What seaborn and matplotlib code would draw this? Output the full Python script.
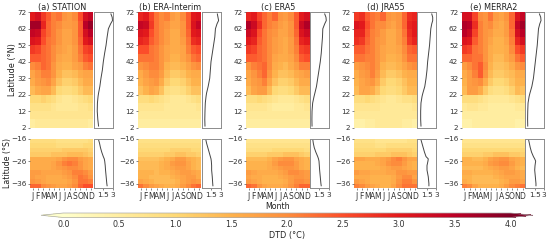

# Monthly DTD by latitude for one station set and four reanalyses
import numpy as np
import matplotlib
matplotlib.use('Agg')
import matplotlib.pyplot as plt
import seaborn as sns

months = ['J', 'F', 'M', 'A', 'M', 'J', 'J', 'A', 'S', 'O', 'N', 'D']
titles = ['(a) STATION', '(b) ERA-Interim', '(c) ERA5', '(d) JRA55', '(e) MERRA2']

# north block, rows go from 72N down to 2N in 5 degree steps
north_a = [[3.0,3.2,2.7,2.4,2.1,2.2,1.9,1.8,2.0,2.5,3.2,3.4],
           [3.7,3.7,2.9,2.3,2.1,2.0,1.8,1.8,1.9,2.4,3.5,3.8],
           [3.4,3.3,2.6,2.3,2.1,1.9,1.7,1.7,1.9,2.4,3.2,3.5],
           [3.1,3.0,2.5,2.2,2.1,1.9,1.7,1.7,1.9,2.3,3.0,3.2],
           [2.7,2.6,2.3,2.2,2.0,1.8,1.7,1.6,1.8,2.2,2.6,2.7],
           [2.4,2.4,2.3,2.2,2.0,1.7,1.6,1.6,1.8,2.1,2.4,2.5],
           [2.0,2.1,2.3,2.2,1.9,1.6,1.5,1.5,1.7,1.8,2.1,2.2],
           [1.7,1.9,2.1,2.1,1.9,1.5,1.3,1.3,1.4,1.6,1.7,1.7],
           [1.6,1.8,1.9,2.0,1.7,1.3,1.1,1.1,1.2,1.4,1.6,1.6],
           [1.4,1.6,1.7,1.7,1.4,1.0,0.9,0.9,1.0,1.2,1.4,1.4],
           [1.0,1.0,1.1,1.0,0.9,0.7,0.6,0.6,0.7,0.8,0.9,1.0],
           [0.8,0.8,0.8,0.8,0.7,0.6,0.6,0.6,0.6,0.7,0.7,0.8],
           [0.7,0.7,0.7,0.7,0.7,0.7,0.7,0.7,0.7,0.7,0.7,0.7],
           [0.5,0.6,0.6,0.6,0.6,0.6,0.6,0.6,0.6,0.6,0.6,0.5]]
north_b = [[2.9,3.0,2.6,2.2,2.0,2.1,1.8,1.7,2.0,2.4,3.0,3.1],
           [3.4,3.3,2.7,2.2,2.0,1.9,1.7,1.7,1.9,2.4,3.1,3.4],
           [3.1,3.0,2.5,2.2,2.0,1.8,1.6,1.6,1.9,2.3,3.0,3.1],
           [2.9,2.8,2.4,2.2,2.0,1.8,1.6,1.6,1.8,2.2,2.8,2.9],
           [2.5,2.5,2.2,2.1,1.9,1.7,1.6,1.6,1.7,2.1,2.4,2.5],
           [2.2,2.2,2.2,2.1,1.9,1.7,1.5,1.5,1.7,1.9,2.2,2.3],
           [1.9,2.0,2.1,2.1,1.9,1.5,1.4,1.4,1.5,1.7,1.9,2.0],
           [1.6,1.8,2.0,2.0,1.8,1.4,1.2,1.2,1.3,1.5,1.6,1.6],
           [1.5,1.7,1.8,1.9,1.6,1.2,1.0,1.0,1.1,1.3,1.5,1.5],
           [1.3,1.5,1.7,1.6,1.3,0.9,0.8,0.8,0.9,1.1,1.3,1.3],
           [0.9,0.9,1.0,0.9,0.8,0.7,0.6,0.6,0.6,0.7,0.8,0.9],
           [0.7,0.7,0.7,0.7,0.7,0.6,0.6,0.6,0.6,0.6,0.6,0.7],
           [0.6,0.6,0.6,0.6,0.6,0.6,0.6,0.6,0.6,0.6,0.6,0.6],
           [0.5,0.5,0.5,0.5,0.5,0.5,0.5,0.5,0.5,0.5,0.5,0.5]]
north_c = [[2.9,3.0,2.6,2.3,2.1,2.3,1.9,1.8,2.0,2.4,3.0,3.2],
           [3.6,3.3,2.8,2.3,2.1,2.0,1.8,1.7,1.9,2.4,3.3,3.6],
           [3.3,3.1,2.5,2.2,2.0,1.9,1.7,1.7,1.9,2.3,3.1,3.3],
           [3.0,2.9,2.4,2.2,2.0,1.8,1.7,1.6,1.8,2.2,2.9,3.0],
           [2.7,2.6,2.3,2.2,2.0,1.8,1.7,1.6,1.8,2.1,2.6,2.7],
           [2.4,2.4,2.3,2.2,2.0,1.7,1.6,1.6,1.7,2.0,2.4,2.5],
           [1.9,2.1,2.2,2.3,2.0,1.6,1.5,1.4,1.6,1.8,2.1,2.1],
           [1.7,1.9,2.1,2.3,1.9,1.5,1.3,1.3,1.4,1.6,1.7,1.8],
           [1.6,1.8,1.9,2.1,1.7,1.3,1.1,1.1,1.2,1.4,1.6,1.6],
           [1.4,1.7,1.8,1.8,1.4,1.0,0.9,0.9,1.0,1.2,1.4,1.4],
           [0.9,0.9,1.0,0.9,0.8,0.7,0.6,0.6,0.6,0.7,0.8,0.9],
           [0.7,0.7,0.7,0.7,0.6,0.5,0.5,0.5,0.5,0.6,0.6,0.7],
           [0.6,0.6,0.6,0.6,0.6,0.6,0.6,0.6,0.6,0.6,0.6,0.6],
           [0.5,0.5,0.5,0.5,0.5,0.5,0.5,0.5,0.5,0.5,0.5,0.5]]
north_d = [[2.7,2.8,2.4,2.2,2.1,2.3,1.9,1.8,1.9,2.3,2.8,2.9],
           [3.1,3.0,2.5,2.2,2.0,2.0,1.8,1.7,1.9,2.3,2.9,3.0],
           [2.9,2.9,2.4,2.1,2.0,1.8,1.6,1.6,1.8,2.2,2.8,3.0],
           [2.8,2.7,2.3,2.1,1.9,1.8,1.6,1.6,1.8,2.1,2.7,2.9],
           [2.4,2.4,2.2,2.1,1.9,1.7,1.6,1.6,1.7,2.0,2.3,2.4],
           [2.2,2.2,2.1,2.1,1.9,1.7,1.5,1.5,1.6,1.9,2.2,2.2],
           [1.8,1.9,2.0,2.1,1.9,1.5,1.4,1.4,1.5,1.7,1.9,2.0],
           [1.6,1.8,1.9,2.1,1.8,1.4,1.2,1.2,1.3,1.5,1.6,1.6],
           [1.5,1.7,1.8,1.9,1.6,1.2,1.0,1.0,1.1,1.3,1.5,1.5],
           [1.4,1.7,1.7,1.6,1.3,1.0,0.9,0.9,1.0,1.2,1.4,1.4],
           [0.9,0.9,1.0,0.9,0.8,0.7,0.6,0.6,0.7,0.8,0.8,0.9],
           [0.7,0.7,0.7,0.7,0.7,0.6,0.6,0.6,0.6,0.6,0.6,0.7],
           [0.6,0.6,0.6,0.6,0.6,0.6,0.6,0.6,0.6,0.6,0.6,0.6],
           [0.4,0.4,0.5,0.5,0.6,0.6,0.6,0.6,0.6,0.5,0.5,0.4]]
north_e = [[3.2,3.2,2.6,2.0,1.9,2.2,1.8,1.7,1.9,2.3,3.1,3.4],
           [3.6,3.5,2.8,2.1,1.9,2.0,1.7,1.6,1.8,2.3,3.4,3.7],
           [3.5,3.3,2.6,2.1,1.9,1.8,1.6,1.6,1.8,2.2,3.2,3.5],
           [3.1,3.0,2.4,2.1,1.9,1.7,1.5,1.5,1.7,2.1,2.9,3.2],
           [2.7,2.6,2.2,2.1,1.9,1.6,1.5,1.5,1.6,2.0,2.5,2.7],
           [2.3,2.3,2.2,2.2,1.9,1.6,1.4,1.4,1.6,1.8,2.2,2.4],
           [1.8,2.0,2.2,2.4,2.0,1.5,1.3,1.3,1.4,1.6,1.9,2.0],
           [1.6,1.8,2.1,2.4,1.9,1.4,1.2,1.2,1.3,1.4,1.6,1.6],
           [1.5,1.8,1.9,2.0,1.6,1.2,1.0,1.0,1.1,1.3,1.5,1.5],
           [1.4,1.8,1.8,1.6,1.2,0.9,0.8,0.8,0.9,1.1,1.4,1.3],
           [0.9,0.9,0.9,0.8,0.7,0.6,0.6,0.6,0.6,0.7,0.8,0.9],
           [0.6,0.7,0.7,0.6,0.6,0.5,0.5,0.5,0.5,0.5,0.6,0.6],
           [0.5,0.5,0.5,0.5,0.5,0.5,0.5,0.5,0.5,0.5,0.5,0.5],
           [0.4,0.4,0.5,0.5,0.5,0.5,0.5,0.5,0.5,0.5,0.4,0.4]]

# south block, rows go from 16S down to 38S in 2 degree steps
south_a = [[0.9,0.9,0.9,0.9,0.9,0.8,0.8,0.8,0.8,0.8,0.8,0.9],
           [1.0,1.0,1.0,1.0,1.0,0.9,0.9,0.9,0.9,0.9,1.0,1.0],
           [1.1,1.1,1.1,1.1,1.1,1.1,1.2,1.2,1.2,1.2,1.2,1.1],
           [1.2,1.2,1.2,1.2,1.3,1.3,1.3,1.4,1.4,1.4,1.3,1.2],
           [1.6,1.6,1.6,1.6,1.6,1.7,1.9,2.0,2.0,1.8,1.7,1.6],
           [1.6,1.6,1.6,1.6,1.7,1.9,2.1,2.2,2.1,1.9,1.7,1.6],
           [1.6,1.6,1.6,1.6,1.7,1.8,1.9,2.0,2.0,1.9,1.7,1.6],
           [1.8,1.8,1.7,1.7,1.7,1.7,1.8,1.9,2.1,2.1,2.0,1.8],
           [1.8,1.7,1.7,1.6,1.6,1.6,1.7,1.8,2.0,2.2,2.1,1.9],
           [1.9,1.8,1.7,1.6,1.6,1.6,1.6,1.7,1.9,2.2,2.2,2.1],
           [2.3,2.3,2.0,1.9,1.8,1.7,1.7,1.8,2.0,2.3,2.5,2.5]]
south_b = [[0.8,0.8,0.8,0.8,0.8,0.8,0.8,0.8,0.8,0.8,0.8,0.8],
           [0.9,0.9,0.9,0.9,0.9,0.9,0.9,0.9,0.9,0.9,0.9,0.9],
           [1.0,1.0,1.0,1.0,1.0,1.0,1.1,1.1,1.1,1.1,1.0,1.0],
           [1.1,1.1,1.1,1.1,1.1,1.2,1.2,1.3,1.3,1.2,1.2,1.1],
           [1.3,1.3,1.3,1.3,1.4,1.5,1.6,1.8,1.8,1.6,1.5,1.4],
           [1.4,1.4,1.4,1.4,1.5,1.6,1.8,1.9,1.9,1.7,1.5,1.4],
           [1.4,1.4,1.4,1.4,1.5,1.6,1.7,1.8,1.8,1.7,1.5,1.4],
           [1.5,1.5,1.5,1.4,1.5,1.5,1.6,1.7,1.8,1.8,1.7,1.6],
           [1.5,1.5,1.4,1.4,1.4,1.4,1.5,1.6,1.7,1.8,1.8,1.6],
           [1.7,1.6,1.5,1.4,1.4,1.4,1.4,1.5,1.7,1.8,1.9,1.8],
           [2.2,2.0,1.8,1.7,1.6,1.5,1.5,1.6,1.8,2.0,2.2,2.3]]
south_c = [[0.7,0.7,0.7,0.7,0.7,0.7,0.7,0.7,0.7,0.7,0.7,0.7],
           [0.8,0.8,0.8,0.8,0.8,0.8,0.8,0.8,0.8,0.8,0.8,0.8],
           [0.9,0.9,0.9,0.9,0.9,1.0,1.0,1.0,1.0,1.0,1.0,0.9],
           [1.1,1.1,1.1,1.1,1.2,1.2,1.2,1.3,1.3,1.3,1.2,1.1],
           [1.4,1.4,1.4,1.4,1.5,1.7,1.8,1.9,1.9,1.7,1.6,1.5],
           [1.5,1.5,1.5,1.5,1.6,1.8,2.0,2.0,2.0,1.8,1.6,1.5],
           [1.5,1.5,1.5,1.5,1.6,1.7,1.8,1.9,1.9,1.8,1.6,1.5],
           [1.8,1.7,1.6,1.6,1.6,1.6,1.7,1.8,2.0,2.0,1.9,1.8],
           [1.7,1.6,1.6,1.5,1.5,1.5,1.6,1.7,1.8,1.9,1.9,1.8],
           [1.8,1.7,1.6,1.5,1.5,1.5,1.5,1.6,1.8,2.0,2.0,1.9],
           [2.3,2.2,1.9,1.7,1.6,1.6,1.6,1.7,1.9,2.1,2.3,2.3]]
south_d = [[0.8,0.8,0.8,0.8,0.7,0.7,0.7,0.7,0.7,0.7,0.8,0.8],
           [0.9,0.9,0.9,0.9,0.8,0.8,0.9,0.9,0.9,0.9,0.9,0.9],
           [1.0,1.0,1.0,1.0,1.0,1.0,1.1,1.1,1.1,1.1,1.1,1.0],
           [1.1,1.1,1.1,1.1,1.2,1.2,1.2,1.3,1.3,1.3,1.2,1.1],
           [1.7,1.7,1.6,1.6,1.6,1.7,1.8,2.0,2.1,1.9,1.7,1.7],
           [1.5,1.5,1.5,1.5,1.6,1.7,1.9,2.0,2.0,1.8,1.6,1.5],
           [1.5,1.5,1.5,1.5,1.5,1.6,1.7,1.8,1.8,1.7,1.6,1.5],
           [1.8,1.7,1.7,1.6,1.6,1.6,1.7,1.7,1.9,1.9,1.8,1.8],
           [1.6,1.6,1.6,1.5,1.5,1.5,1.5,1.6,1.8,2.0,2.0,1.7],
           [1.8,1.7,1.6,1.5,1.5,1.5,1.5,1.6,1.9,2.1,2.1,1.9],
           [2.1,2.0,1.8,1.7,1.6,1.5,1.5,1.7,2.0,2.2,2.2,2.2]]
south_e = [[0.7,0.7,0.7,0.7,0.7,0.7,0.7,0.7,0.7,0.7,0.7,0.7],
           [0.8,0.8,0.8,0.8,0.8,0.8,0.8,0.8,0.8,0.8,0.8,0.8],
           [1.0,1.0,1.0,1.0,1.0,1.0,1.0,1.0,1.0,1.0,1.0,1.0],
           [1.1,1.1,1.1,1.1,1.2,1.2,1.3,1.3,1.3,1.2,1.2,1.1],
           [1.5,1.5,1.4,1.4,1.5,1.7,1.8,1.9,1.9,1.7,1.6,1.5],
           [1.5,1.5,1.5,1.5,1.6,1.8,1.9,2.0,2.0,1.8,1.6,1.5],
           [1.4,1.4,1.4,1.4,1.5,1.6,1.7,1.8,1.8,1.7,1.5,1.4],
           [1.6,1.6,1.5,1.5,1.5,1.5,1.6,1.7,1.8,1.8,1.7,1.6],
           [1.5,1.5,1.4,1.4,1.4,1.4,1.5,1.6,1.7,1.7,1.7,1.6],
           [1.6,1.5,1.4,1.4,1.4,1.4,1.4,1.5,1.6,1.8,1.8,1.7],
           [2.1,2.0,1.7,1.5,1.5,1.5,1.5,1.6,1.8,2.0,2.1,2.2]]

# annual mean profiles for the narrow side panels
north_lat = [71, 69, 67, 65, 62, 57, 52, 47, 42, 37, 32, 27, 23, 21, 17, 12, 7, 3]
line_n_a = [2.75, 2.95, 3.0, 2.7, 2.35, 2.15, 1.98, 1.75, 1.55, 1.4, 1.18, 1.0, 0.8, 0.72, 0.62, 0.59, 0.68, 0.8]
line_n_b = [2.5, 2.6, 2.7, 2.45, 2.2, 2.1, 1.9, 1.7, 1.5, 1.4, 1.3, 1.05, 0.8, 0.72, 0.6, 0.55, 0.52, 0.55]
line_n_c = [2.4, 2.6, 2.65, 2.4, 2.1, 2.05, 1.95, 1.85, 1.7, 1.5, 1.3, 1.1, 0.85, 0.72, 0.5, 0.4, 0.38, 0.4]
line_n_d = [2.25, 2.4, 2.4, 2.25, 2.1, 2.0, 1.9, 1.75, 1.6, 1.5, 1.35, 1.15, 0.85, 0.72, 0.55, 0.5, 0.5, 0.55]
line_n_e = [2.25, 2.45, 2.5, 2.3, 2.1, 2.0, 1.9, 1.75, 1.6, 1.45, 1.3, 1.05, 0.75, 0.62, 0.45, 0.4, 0.38, 0.4]

south_lat = [-16, -18, -20, -22, -24, -25, -26, -28, -30, -33, -36, -37]
line_s_a = [0.75, 0.95, 1.1, 1.3, 1.55, 1.7, 1.77, 1.85, 1.9, 2.0, 2.1, 2.15]
line_s_b = [0.65, 0.8, 1.0, 1.2, 1.4, 1.5, 1.55, 1.6, 1.6, 1.7, 1.77, 1.8]
line_s_c = [0.5, 0.6, 0.75, 1.0, 1.3, 1.42, 1.5, 1.55, 1.6, 1.7, 1.8, 1.85]
line_s_d = [0.5, 0.7, 0.9, 1.1, 1.35, 1.7, 1.65, 1.5, 1.5, 1.7, 1.8, 1.8]
line_s_e = [0.5, 0.65, 0.8, 1.0, 1.3, 1.5, 1.65, 1.55, 1.5, 1.6, 1.7, 1.7]

north_ticks = [72, 62, 52, 42, 32, 22, 12, 2]
south_ticks = [-16, -26, -36]

north_all = [north_a, north_b, north_c, north_d, north_e]
south_all = [south_a, south_b, south_c, south_d, south_e]
line_n_all = [line_n_a, line_n_b, line_n_c, line_n_d, line_n_e]
line_s_all = [line_s_a, line_s_b, line_s_c, line_s_d, line_s_e]

W, H = 550, 240
lefts = [30, 138, 246, 354, 461.7]
heat_w, line_w = 63.5, 19
grey = '#8c8c8c'


def box(x0, y0, w, h):
    # pixel box measured from the top left, turned into figure fractions
    return [x0 / W, 1 - (y0 + h) / H, w / W, h / H]


def draw_pair(fig, x0, y0, h, data, prof, lat, ticks, top, step):
    ax = fig.add_axes(box(x0, y0, heat_w, h))
    sns.heatmap(np.array(data), ax=ax, cmap='YlOrRd', vmin=0, vmax=4, cbar=False,
                xticklabels=False, yticklabels=False)
    ax.set_yticks([(top - t) / step for t in ticks])
    ax.set_yticklabels([str(t).replace('-', '\u2212') for t in ticks], rotation=0, fontsize=5.2)
    ax.tick_params(axis='y', length=1.5, width=0.5, pad=1, color='#555555', labelcolor='#333333')
    ax.tick_params(axis='x', length=0)

    side = fig.add_axes(box(x0 + heat_w, y0, line_w, h))
    side.plot(prof, lat, color='#444444', lw=0.7)
    side.set_xlim(0, 3)
    side.set_ylim(top - len(data) * step, top)
    side.set_yticks([])
    side.set_xticks([])
    for s in side.spines.values():
        s.set_color(grey)
        s.set_linewidth(0.7)
    return ax, side


fig = plt.figure(figsize=(5.5, 2.4), dpi=100)

for i in range(5):
    ax, side = draw_pair(fig, lefts[i], 12.3, 115.4, north_all[i], line_n_all[i],
                         north_lat, north_ticks, 72, 5)
    ax.set_title(titles[i], fontsize=5.9, pad=1.5, color='#222222')
    if i == 0:
        ax.set_ylabel('Latitude (°N)', fontsize=5.9, color='#222222')
        ax.yaxis.set_label_coords(-0.2, 0.5)

    ax, side = draw_pair(fig, lefts[i], 138.7, 49.3, south_all[i], line_s_all[i],
                         south_lat, south_ticks, -16, 2)
    ax.set_xticks(np.arange(12) + 0.5)
    ax.set_xticklabels(months, rotation=0, fontsize=5.5, color='#333333')
    ax.tick_params(axis='x', length=1.5, width=0.5, pad=1.5, color='#555555')
    side.set_xticks([1.5, 3])
    side.set_xticklabels(['1.5', '3'], fontsize=5.3, color='#333333')
    side.tick_params(axis='x', length=1.5, width=0.5, pad=1.5, color='#555555')
    if i == 0:
        ax.set_ylabel('Latitude (°S)', fontsize=5.7, color='#222222')
        ax.yaxis.set_label_coords(-0.28, 0.5)
    if i == 2:
        ax.set_xlabel('Month', fontsize=5.7, labelpad=0.5, color='#222222')

# shared colour bar along the bottom, the axes box includes both triangles
cax = fig.add_axes(box(41, 213, 492, 4.5))
sm = plt.cm.ScalarMappable(norm=plt.Normalize(0, 4), cmap='YlOrRd')
cb = fig.colorbar(sm, cax=cax, orientation='horizontal', extend='both', extendfrac=0.05,
                  ticks=np.arange(0, 4.5, 0.5))
cb.ax.tick_params(labelsize=5.8, length=0, pad=1.5, labelcolor='#333333')
cb.outline.set_edgecolor('#aaaaaa')
cb.outline.set_linewidth(0.5)
cb.set_label('DTD (°C)', fontsize=5.9, labelpad=2, color='#222222')

fig.savefig('out.png', dpi=100)
